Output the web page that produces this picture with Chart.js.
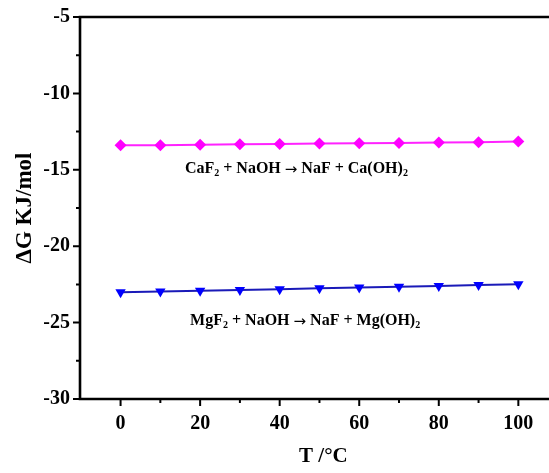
<!DOCTYPE html>
<html>
<head>
<meta charset="utf-8">
<script src="https://cdn.jsdelivr.net/npm/chart.js@4.4.0/dist/chart.umd.min.js"></script>
<style>
  html, body { margin: 0; padding: 0; background: #fff; }
  #wrap { width: 549px; height: 473px; }
</style>
</head>
<body>
<div id="wrap"><canvas id="chart" width="549" height="473"></canvas></div>
<script>
// temperature (°C)
const temps = [0, 10, 20, 30, 40, 50, 60, 70, 80, 90, 100];
// ΔG values (kJ/mol)
const caF2Values = [-13.40, -13.40, -13.36, -13.33, -13.31, -13.28, -13.26, -13.24, -13.22, -13.20, -13.15];
const mgF2Values = [-23.02, -22.97, -22.92, -22.87, -22.81, -22.76, -22.71, -22.65, -22.60, -22.54, -22.49];

const xTicks = [0, 10, 20, 30, 40, 50, 60, 70, 80, 90, 100];
const yTicks = [-30, -27.5, -25, -22.5, -20, -17.5, -15, -12.5, -10, -7.5, -5];

const serif = '"Liberation Serif", "Times New Roman", serif';

// reaction labels: runs of [text, kind] (0 normal, 1 subscript, 2 arrow), anchor in data units
const reactions = [
  { parts: [['CaF', 0], ['2', 1], [' + NaOH ', 0], ['\u2192', 2], [' NaF + Ca(OH)', 0], ['2', 1]], x: 44.2, y: -15.19 },
  { parts: [['MgF', 0], ['2', 1], [' + NaOH ', 0], ['\u2192', 2], [' NaF + Mg(OH)', 0], ['2', 1]], x: 46.4, y: -25.16 }
];
const runFonts = ['bold 16px ' + serif, 'bold 10px ' + serif, '15px "DejaVu Sans"'];

const frame = {
  id: 'frame',
  afterDraw(chart) {
    const { ctx, chartArea: a, scales } = chart;
    ctx.save();
    ctx.strokeStyle = '#000';
    ctx.lineWidth = 2.6;
    ctx.beginPath();
    // the frame runs off the right edge, as in the cropped original
    ctx.moveTo(a.left, a.top);
    ctx.lineTo(a.left, a.bottom);
    ctx.moveTo(a.left - 1.3, a.bottom);
    ctx.lineTo(chart.width, a.bottom);
    ctx.moveTo(a.left - 1.3, a.top);
    ctx.lineTo(chart.width, a.top);
    ctx.stroke();

    // ticks, outward
    ctx.lineWidth = 2;
    ctx.beginPath();
    xTicks.forEach(v => {
      const px = scales.x.getPixelForValue(v);
      const len = v % 20 === 0 ? 7 : 4;
      ctx.moveTo(px, a.bottom);
      ctx.lineTo(px, a.bottom + len);
    });
    yTicks.forEach(v => {
      const py = scales.y.getPixelForValue(v);
      const len = v % 5 === 0 ? 7 : 4;
      ctx.moveTo(a.left, py);
      ctx.lineTo(a.left - len, py);
    });
    ctx.stroke();

    // axis titles
    ctx.fillStyle = '#000';
    ctx.textAlign = 'center';
    ctx.textBaseline = 'middle';
    ctx.font = 'bold 21px ' + serif;
    ctx.fillText('T /\u00B0C', scales.x.getPixelForValue(51), 457);
    ctx.save();
    ctx.translate(25, (a.top + a.bottom) / 2);
    ctx.rotate(-Math.PI / 2);
    ctx.font = 'bold 23px ' + serif;
    ctx.fillText('\u0394G KJ/mol', 0, 0);
    ctx.restore();

    // reaction labels
    ctx.textBaseline = 'alphabetic';
    ctx.textAlign = 'left';
    reactions.forEach(r => {
      let w = 0;
      r.parts.forEach(([t, k]) => { ctx.font = runFonts[k]; w += ctx.measureText(t).width; });
      let x = scales.x.getPixelForValue(r.x) - w / 2;
      const y = scales.y.getPixelForValue(r.y);
      r.parts.forEach(([t, k]) => {
        ctx.font = runFonts[k];
        ctx.fillText(t, x, k === 1 ? y + 3 : (k === 2 ? y + 1 : y));
        x += ctx.measureText(t).width;
      });
    });
    ctx.restore();
  }
};

new Chart(document.getElementById('chart'), {
  type: 'line',
  data: {
    labels: temps,
    datasets: [
      {
        label: 'CaF2',
        data: temps.map((t, i) => ({ x: t, y: caF2Values[i] })),
        borderColor: '#FF22FF',
        backgroundColor: '#FF00FF',
        borderWidth: 2,
        pointStyle: 'rectRot',
        pointRadius: 6,
        pointBorderWidth: 0,
        tension: 0
      },
      {
        label: 'MgF2',
        data: temps.map((t, i) => ({ x: t, y: mgF2Values[i] })),
        borderColor: '#1A1AB8',
        backgroundColor: '#0000FF',
        borderWidth: 2,
        pointStyle: 'triangle',
        rotation: 180,
        pointRadius: 6,
        pointBorderWidth: 0,
        tension: 0
      }
    ]
  },
  options: {
    responsive: false,
    animation: false,
    layout: { padding: { top: 17, right: 0, left: 0, bottom: 0 } },
    plugins: { legend: { display: false }, tooltip: { enabled: false } },
    scales: {
      x: {
        type: 'linear',
        min: -10.2,
        max: 106.2,
        grid: { display: false, drawTicks: true, tickLength: 7 },
        border: { display: false },
        afterBuildTicks: s => { s.ticks = xTicks.map(v => ({ value: v })); },
        afterFit: s => { s.height = 74; },
        ticks: {
          autoSkip: false,
          maxRotation: 0,
          padding: 6,
          color: '#000',
          font: { family: serif, size: 20, weight: 'bold' },
          callback: v => (v % 20 === 0 ? String(v) : '')
        }
      },
      y: {
        min: -30,
        max: -5,
        grid: { display: false, drawTicks: true, tickLength: 7 },
        border: { display: false },
        afterBuildTicks: s => { s.ticks = yTicks.map(v => ({ value: v })); },
        afterFit: s => { s.width = 80; },
        ticks: {
          autoSkip: false,
          padding: 3,
          color: '#000',
          font: { family: serif, size: 20, weight: 'bold' },
          callback: v => (v % 5 === 0 ? String(v) : '')
        }
      }
    }
  },
  plugins: [frame]
});
</script>
</body>
</html>
